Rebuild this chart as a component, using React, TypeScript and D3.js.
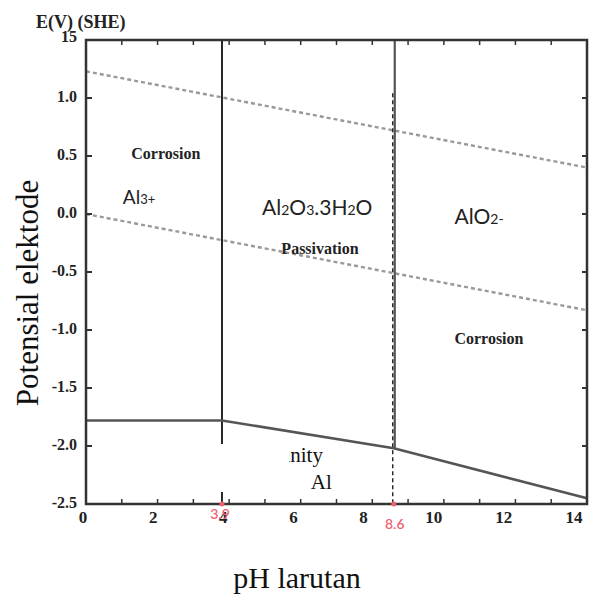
import React from "react";
import * as d3 from "d3";

// ---- data ----
const phMin = 0;
const phMax = 14;
const eMin = -2.5;
const eMax = 1.5;
const xTickLabels = [0, 2, 4, 6, 8, 10, 12, 14];
const xMinorTicks = d3.range(0, 15, 1);
const yTickValues = [1.5, 1.0, 0.5, 0.0, -0.5, -1.0, -1.5, -2.0, -2.5];
const yTickLabels = ["15", "1.0", "0.5", "0.0", "-0.5", "-1.0", "-1.5", "-2.0", "-2.5"];
// water stability lines (pH, E)
const upperWater = [
  { ph: 0, e: 1.23 },
  { ph: 14, e: 0.4 },
];
const lowerWater = [
  { ph: 0, e: 0.0 },
  { ph: 14, e: -0.83 },
];
// Al / immunity boundary
const immunityBoundary = [
  { ph: 0, e: -1.78 },
  { ph: 3.8, e: -1.78 },
  { ph: 8.6, e: -2.02 },
  { ph: 14, e: -2.45 },
];
const boundaryPh = [3.8, 8.6];
const boundaryLabels = ["3.9", "8.6"];

const W = 595;
const H = 600;
const left = 86;
const right = 587;
const top = 40;
const bottom = 504;

export default function App() {
  const x = d3.scaleLinear().domain([phMin, phMax]).range([left, right]);
  const y = d3.scaleLinear().domain([eMin, eMax]).range([bottom, top]);
  const xLab = d3.scaleLinear().domain([phMin, phMax]).range([83, 574]);
  const line = d3
    .line<{ ph: number; e: number }>()
    .x((d) => x(d.ph))
    .y((d) => y(d.e));

  const serifBold = { fontFamily: "'Liberation Serif', serif", fontWeight: 700 };
  const sans = { fontFamily: "Lato, 'Open Sans', sans-serif" };
  const frame = "#333";

  return (
    <svg
      width={W}
      height={H}
      style={{ position: "absolute", left: 0, top: 0, background: "#fff" }}
    >
      <rect x={0} y={0} width={W} height={H} fill="#fff" />

      {/* water lines */}
      <path d={line(upperWater) || ""} fill="none" stroke="#999" strokeWidth={2.4} strokeDasharray="4,3" />
      <path d={line(lowerWater) || ""} fill="none" stroke="#999" strokeWidth={2.4} strokeDasharray="4,3" />

      {/* vertical boundaries */}
      <line x1={x(boundaryPh[0])} x2={x(boundaryPh[0])} y1={y(eMax)} y2={y(eMin)} stroke="#111" strokeWidth={1.8} />
      <line x1={x(boundaryPh[1]) + 1} x2={x(boundaryPh[1]) + 1} y1={y(eMax)} y2={y(-2.02)} stroke="#555" strokeWidth={2.2} />
      <line
        x1={x(boundaryPh[1]) - 1}
        x2={x(boundaryPh[1]) - 1}
        y1={y(1.04)}
        y2={y(eMin)}
        stroke="#111"
        strokeWidth={1.3}
        strokeDasharray="4,3"
      />

      {/* immunity boundary */}
      <path d={line(immunityBoundary) || ""} fill="none" stroke="#555" strokeWidth={2.6} />

      {/* region labels */}
      <text x={x(2.23)} y={y(0.51)} textAnchor="middle" dominantBaseline="middle" fontSize={16} {...serifBold} fill="#222">
        Corrosion
      </text>
      <text x={x(1.03)} y={y(0.086)} fontSize={19} {...sans} fill="#222">
        Al<tspan fontSize={13}>3+</tspan>
      </text>
      <text x={x(4.92)} y={y(-0.01)} fontSize={21} {...sans} fill="#222">
        Al<tspan fontSize={14}>2</tspan>O<tspan fontSize={14}>3</tspan>.3H<tspan fontSize={14}>2</tspan>O
      </text>
      <text x={x(6.54)} y={y(-0.31)} textAnchor="middle" dominantBaseline="middle" fontSize={16} {...serifBold} fill="#222">
        Passivation
      </text>
      <text x={x(10.3)} y={y(-0.09)} fontSize={21} {...sans} fill="#222">
        AlO<tspan fontSize={14}>2-</tspan>
      </text>
      <text x={x(11.26)} y={y(-1.09)} textAnchor="middle" dominantBaseline="middle" fontSize={16} {...serifBold} fill="#222">
        Corrosion
      </text>
      <text x={x(6.62)} y={y(-2.14)} textAnchor="end" fontSize={21} fontFamily="'Liberation Serif', serif" fill="#111">
        Immunity
      </text>
      {/* white patch from the source image covering part of the label */}
      <rect x={212} y={444} width={77} height={48} fill="#fff" />
      <text x={x(6.28)} y={y(-2.37)} fontSize={21} fontFamily="'Liberation Serif', serif" fill="#111">
        Al
      </text>

      {/* frame */}
      <rect x={left} y={top} width={right - left} height={bottom - top} fill="none" stroke={frame} strokeWidth={2.5} />

      {/* ticks */}
      {xMinorTicks.map((t) => (
        <g key={"xt" + t}>
          <line x1={x(t)} x2={x(t)} y1={bottom} y2={bottom - 5} stroke={frame} strokeWidth={1.5} />
          <line x1={x(t)} x2={x(t)} y1={top} y2={top + 5} stroke={frame} strokeWidth={1.5} />
        </g>
      ))}
      {yTickValues.map((t) => (
        <g key={"yt" + t}>
          <line x1={left} x2={left + 6} y1={y(t)} y2={y(t)} stroke={frame} strokeWidth={2} />
          <line x1={right} x2={right - 5} y1={y(t)} y2={y(t)} stroke={frame} strokeWidth={2} />
        </g>
      ))}

      {/* x tick labels */}
      {xTickLabels.map((t) => (
        <text key={"xl" + t} x={xLab(t)} y={523} textAnchor="middle" fontSize={17} {...serifBold} fill="#222">
          {t}
        </text>
      ))}

      {/* red markers */}
      {boundaryPh.map((p, i) => (
        <g key={"b" + i}>
          <circle cx={x(p)} cy={bottom} r={2.5} fill="#f06272" />
          <text
            x={x(p) + (i === 0 ? -2 : 1)}
            y={i === 0 ? 519 : 529}
            textAnchor="middle"
            fontSize={14}
            fontWeight={600}
            {...sans}
            fill="#f06272"
          >
            {boundaryLabels[i]}
          </text>
        </g>
      ))}

      {/* y tick labels */}
      {yTickValues.map((t, i) => (
        <text
          key={"yl" + t}
          x={77}
          y={y(t) + (i === 0 ? -2 : 0)}
          textAnchor="end"
          dominantBaseline="middle"
          fontSize={16}
          {...serifBold}
          fill="#222"
        >
          {yTickLabels[i]}
        </text>
      ))}

      {/* axis title top */}
      <text x={36} y={28} fontSize={18} {...serifBold} fill="#222">
        E(V) (SHE)
      </text>

      {/* axis titles */}
      <text
        transform={`translate(38, ${293}) rotate(-90)`}
        textAnchor="middle"
        fontSize={31}
        fontFamily="'Liberation Serif', serif"
        fill="#111"
      >
        Potensial elektode
      </text>
      <text x={297} y={588} textAnchor="middle" fontSize={30} fontFamily="'Liberation Serif', serif" fill="#111">
        pH larutan
      </text>
    </svg>
  );
}
